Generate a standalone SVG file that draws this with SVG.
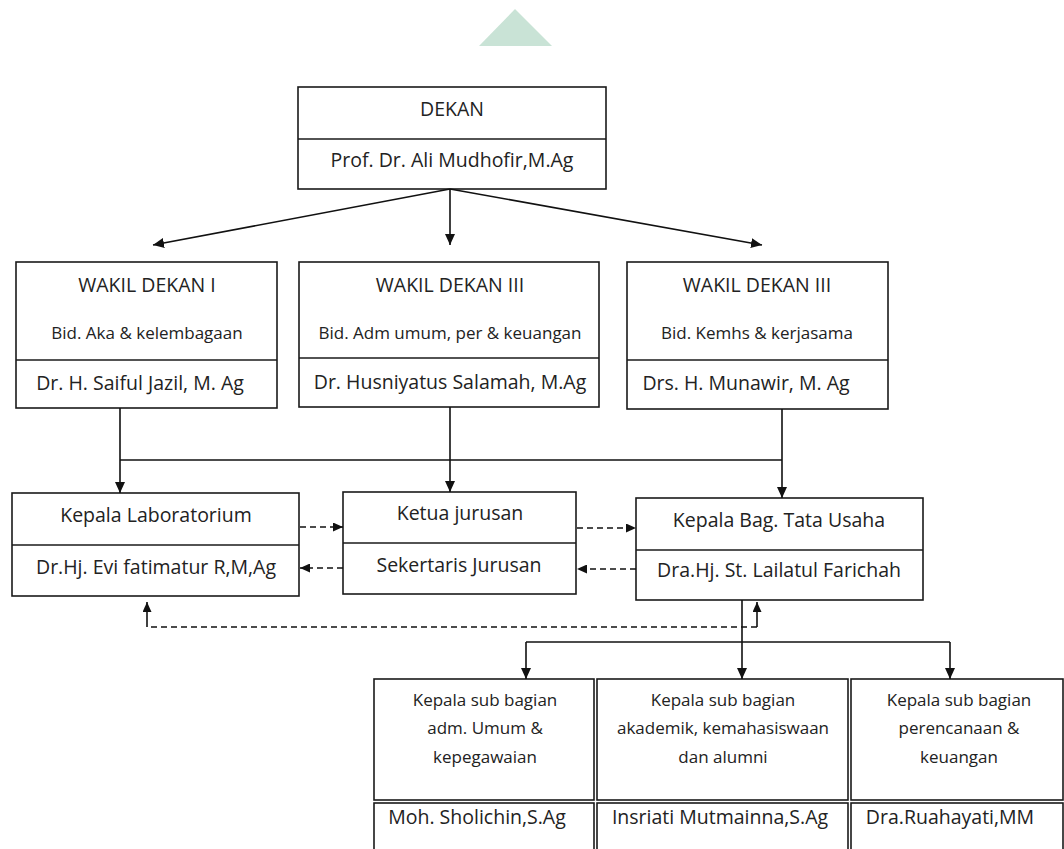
<svg xmlns="http://www.w3.org/2000/svg" width="1064" height="849" viewBox="0 0 1064 849">
<defs>
<marker id="ah" markerUnits="userSpaceOnUse" markerWidth="11" markerHeight="10" refX="11" refY="5" orient="auto"><path d="M0,0 L11,5 L0,10 z" fill="#111"/></marker>
<marker id="ahd" markerUnits="userSpaceOnUse" markerWidth="10" markerHeight="9" refX="10" refY="4.5" orient="auto"><path d="M0,0 L10,4.5 L0,9 z" fill="#111"/></marker>
</defs>
<style>
.box{fill:#fff;stroke:#1a1a1a;stroke-width:1.6}
.dv{stroke:#1a1a1a;stroke-width:1.6}
text{font-family:"Open Sans","Noto Sans",sans-serif;fill:#222;text-anchor:middle}
.t{font-size:19.5px}
.s{font-size:17px}
.c{fill:none;stroke:#111;stroke-width:1.6}
.d{stroke-dasharray:6 4}
</style>
<rect x="0" y="0" width="1064" height="849" fill="#fff"/>
<polygon points="515,9 552,46 479,46" fill="#c9e3d6"/>

<g id="dekan">
<rect class="box" x="298" y="87" width="308" height="102"/>
<line class="dv" x1="298" y1="139" x2="606" y2="139"/>
<text class="t" x="452" y="116">DEKAN</text>
<text class="t" x="452" y="167">Prof. Dr. Ali Mudhofir,M.Ag</text>
</g>

<g id="wakil1">
<rect class="box" x="16" y="262" width="261" height="146"/>
<line class="dv" x1="16" y1="360" x2="277" y2="360"/>
<text class="t" x="147" y="292">WAKIL DEKAN I</text>
<text class="s" x="147" y="339">Bid. Aka &amp; kelembagaan</text>
<text class="t" x="140" y="390">Dr. H. Saiful Jazil, M. Ag</text>
</g>

<g id="wakil2">
<rect class="box" x="299" y="262" width="300" height="145"/>
<line class="dv" x1="299" y1="358" x2="599" y2="358"/>
<text class="t" x="450" y="292">WAKIL DEKAN III</text>
<text class="s" x="450" y="339">Bid. Adm umum, per &amp; keuangan</text>
<text class="t" x="450" y="389">Dr. Husniyatus Salamah, M.Ag</text>
</g>

<g id="wakil3">
<rect class="box" x="627" y="262" width="261" height="147"/>
<line class="dv" x1="627" y1="360" x2="888" y2="360"/>
<text class="t" x="757" y="292">WAKIL DEKAN III</text>
<text class="s" x="757" y="339">Bid. Kemhs &amp; kerjasama</text>
<text class="t" x="746" y="390">Drs. H. Munawir, M. Ag</text>
</g>

<g id="lab">
<rect class="box" x="12" y="493" width="287" height="103"/>
<line class="dv" x1="12" y1="545" x2="299" y2="545"/>
<text class="t" x="156" y="522">Kepala Laboratorium</text>
<text class="t" x="156" y="574">Dr.Hj. Evi fatimatur R,M,Ag</text>
</g>

<g id="ketua">
<rect class="box" x="343" y="492" width="233" height="102"/>
<line class="dv" x1="343" y1="543" x2="576" y2="543"/>
<text class="t" x="460" y="520">Ketua jurusan</text>
<text class="t" x="459" y="572">Sekertaris Jurusan</text>
</g>

<g id="tatausaha">
<rect class="box" x="636" y="498" width="287" height="102"/>
<line class="dv" x1="636" y1="550" x2="923" y2="550"/>
<text class="t" x="779" y="527">Kepala Bag. Tata Usaha</text>
<text class="t" x="779" y="577">Dra.Hj. St. Lailatul Farichah</text>
</g>

<g id="subumum">
<rect class="box" x="374" y="679" width="220" height="121"/>
<rect class="box" x="374" y="803" width="220" height="60"/>
<text class="s" x="485" y="706">Kepala sub bagian</text>
<text class="s" x="485" y="734">adm. Umum &amp;</text>
<text class="s" x="485" y="763">kepegawaian</text>
<text class="t" x="477" y="824">Moh. Sholichin,S.Ag</text>
</g>

<g id="subakademik">
<rect class="box" x="597" y="679" width="251" height="121"/>
<rect class="box" x="597" y="803" width="251" height="60"/>
<text class="s" x="723" y="706">Kepala sub bagian</text>
<text class="s" x="723" y="734">akademik, kemahasiswaan</text>
<text class="s" x="723" y="763">dan alumni</text>
<text class="t" x="720" y="824">Insriati Mutmainna,S.Ag</text>
</g>

<g id="subkeuangan">
<rect class="box" x="851" y="679" width="212" height="121"/>
<rect class="box" x="851" y="803" width="212" height="60"/>
<text class="s" x="959" y="706">Kepala sub bagian</text>
<text class="s" x="959" y="734">perencanaan &amp;</text>
<text class="s" x="959" y="763">keuangan</text>
<text class="t" x="950" y="824">Dra.Ruahayati,MM</text>
</g>

<g id="connectors">
<line class="c" x1="450" y1="189" x2="153" y2="245" marker-end="url(#ah)"/>
<line class="c" x1="450" y1="189" x2="450" y2="245" marker-end="url(#ah)"/>
<line class="c" x1="450" y1="189" x2="762" y2="245" marker-end="url(#ah)"/>
<line class="c" x1="120" y1="408" x2="120" y2="493" marker-end="url(#ah)"/>
<line class="c" x1="450" y1="407" x2="450" y2="492" marker-end="url(#ah)"/>
<line class="c" x1="782" y1="409" x2="782" y2="498" marker-end="url(#ah)"/>
<line class="c" x1="120" y1="460" x2="782" y2="460"/>
<line class="c d" x1="300" y1="527" x2="343" y2="527" marker-end="url(#ahd)"/>
<line class="c d" x1="343" y1="568" x2="300" y2="568" marker-end="url(#ahd)"/>
<line class="c d" x1="577" y1="528" x2="636" y2="528" marker-end="url(#ahd)"/>
<line class="c d" x1="636" y1="569" x2="577" y2="569" marker-end="url(#ahd)"/>
<path class="c d" d="M757,627 H147"/>
<line class="c" x1="147" y1="627" x2="147" y2="602" marker-end="url(#ahd)"/>
<line class="c" x1="757" y1="627" x2="757" y2="602" marker-end="url(#ahd)"/>
<line class="c" x1="742" y1="600" x2="742" y2="679" marker-end="url(#ah)"/>
<line class="c" x1="526" y1="642" x2="950" y2="642"/>
<line class="c" x1="526" y1="642" x2="526" y2="679" marker-end="url(#ah)"/>
<line class="c" x1="950" y1="642" x2="950" y2="679" marker-end="url(#ah)"/>
</g>
</svg>
